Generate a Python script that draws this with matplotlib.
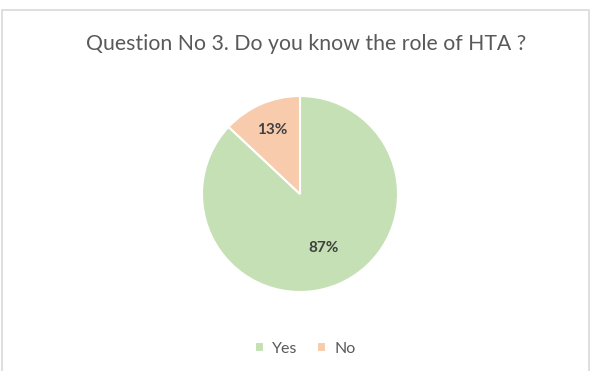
import matplotlib.pyplot as plt
import numpy as np
from matplotlib.patches import Rectangle

# answers to question 3
labels = ['Yes', 'No']
shares = [87, 13]
colors = ['#C5E0B4', '#F8CBAD']

plt.rcParams['font.family'] = ['Lato', 'DejaVu Sans']

W, H = 590, 371
fig = plt.figure(figsize=(W / 100, H / 100), dpi=100)

# light frame around the chart area
fig.patches.append(Rectangle((2 / W, -0.1), (587 / W), (H - 10) / H + 0.1,
                             transform=fig.transFigure, fill=False,
                             edgecolor='#D9D9D9', linewidth=1.2))

fig.text(306 / W, 1 - 44 / H, 'Question No 3. Do you know the role of HTA ?',
         ha='center', va='center', fontsize=15.3, color='#595959')

cx, cy, r = 300, 194, 98
ax = fig.add_axes([(cx - r) / W, 1 - (cy + r) / H, 2 * r / W, 2 * r / H])
wedges, _, autotexts = ax.pie(shares, colors=colors, startangle=90, counterclock=False,
                              autopct='%d%%', pctdistance=0.65,
                              wedgeprops=dict(edgecolor='white', linewidth=1.5),
                              textprops=dict(color='#404040', fontsize=11, fontweight='bold'))
ax.set_xlim(-1, 1)
ax.set_ylim(-1, 1)

# nudge the percentage labels
dists = [0.6, 0.71]
for w, t, d in zip(wedges, autotexts, dists):
    ang = np.deg2rad((w.theta1 + w.theta2) / 2)
    t.set_position((d * np.cos(ang), d * np.sin(ang)))

leg = fig.legend(wedges, labels, loc='center', bbox_to_anchor=(305 / W, 1 - 349 / H),
                 ncol=2, frameon=False, fontsize=11.5, handlelength=0.6, handleheight=0.6,
                 handletextpad=0.5, columnspacing=1.2, labelcolor='#595959')

fig.savefig('out.png', dpi=100)
